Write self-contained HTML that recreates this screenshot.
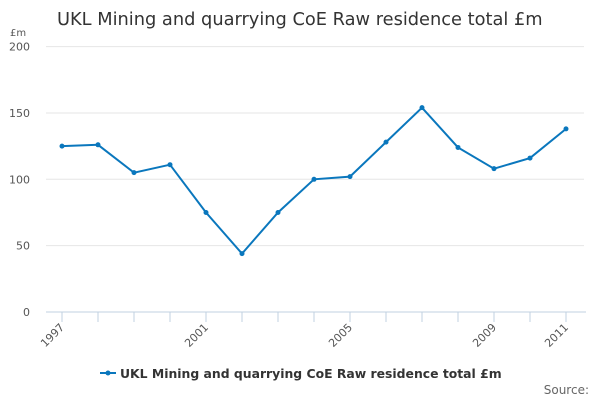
<!DOCTYPE html>
<html><head><meta charset="utf-8"><style>
body{margin:0;background:#fff;font-family:"Liberation Sans","DejaVu Sans",sans-serif}
svg text{font-family:"DejaVu Sans","Liberation Sans",sans-serif}
</style></head><body>
<svg width="600" height="400" id="c">
<text x="57" y="25" font-size="17.8" fill="#333">UKL Mining and quarrying CoE Raw residence total £m</text>
<text x="10" y="36" font-size="10" fill="#555">£m</text>
<g id="grid"></g><g id="xax"></g><g id="series"></g>
<g>
<line x1="100" y1="373" x2="116" y2="373" stroke="#0a77bd" stroke-width="2"/><circle cx="108" cy="373" r="2.5" fill="#0a77bd"/>
<text x="120" y="378" font-size="12.4" font-weight="bold" fill="#333">UKL Mining and quarrying CoE Raw residence total £m</text></g>
<text x="589" y="394" font-size="12" fill="#666" text-anchor="end">Source:</text>
</svg>
<script>
const years=[1997,1998,1999,2000,2001,2002,2003,2004,2005,2006,2007,2008,2009,2010,2011];
const values=[125,126,105,111,75,44,75,100,102,128,154,124,108,116,138];
const yTicks=[0,50,100,150,200];
const xLabels=[1997,2001,2005,2009,2011];
const NS="http://www.w3.org/2000/svg";
const x=y=>62+(y-1997)*36;
const yy=v=>312-v*1.327;
function mk(t,a,p){const e=document.createElementNS(NS,t);for(const k in a)e.setAttribute(k,a[k]);p.appendChild(e);return e;}
const g=document.getElementById('grid'),xa=document.getElementById('xax'),s=document.getElementById('series');
yTicks.forEach(v=>{
 if(v>0){const l=mk('line',{x1:46,x2:584,y1:yy(v),y2:yy(v),stroke:'#e6e6e6'},g);
 
 }
 const t=mk('text',{x:30,y:yy(v)+4,'font-size':11,fill:'#555','text-anchor':'end'},g);t.textContent=v;
 
 
});
const ax=mk('line',{x1:46,x2:586,y1:312,y2:312,stroke:'#c0d0e0'},xa);


years.forEach(y=>{const tk=mk('line',{x1:x(y),x2:x(y),y1:312,y2:322,stroke:'#c0d0e0'},xa);
 
 });
xLabels.forEach(y=>{const t=mk('text',{x:x(y)+3,y:328,'font-size':11,fill:'#555','text-anchor':'end',transform:`rotate(-45 ${x(y)+3} 328)`},xa);t.textContent=y;
 
 });
const pl=mk('polyline',{points:years.map((y,i)=>x(y)+','+yy(values[i])).join(' '),fill:'none',stroke:'#0a77bd','stroke-width':2},s);


years.forEach((y,i)=>{const c=mk('circle',{cx:x(y),cy:yy(values[i]),r:2.5,fill:'#0a77bd'},s);
 
 });
</script>
</body></html>
